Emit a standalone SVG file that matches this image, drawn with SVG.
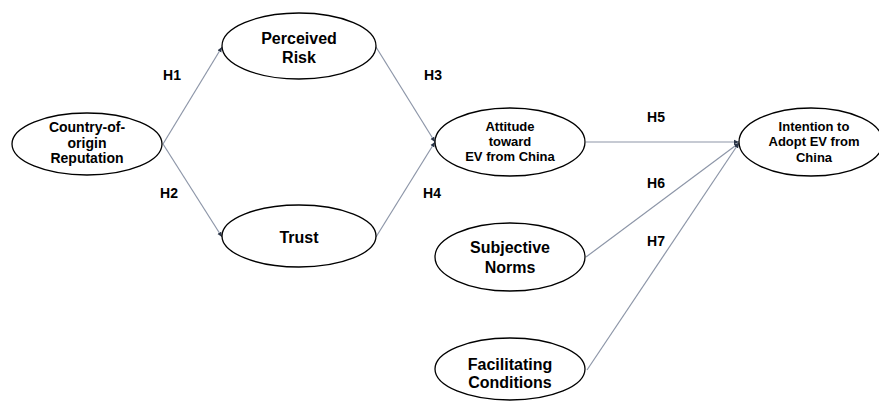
<svg xmlns="http://www.w3.org/2000/svg" width="879" height="401" viewBox="0 0 879 401">
<style>
.n{fill:#fff;stroke:#000;stroke-width:1.3}
.t{font-family:"Liberation Sans",Arial,sans-serif;font-weight:bold;fill:#000;text-anchor:middle}
.c{stroke:#8d96a8;stroke-width:1.2;fill:none;marker-end:url(#a)}
.h{font-family:"Liberation Sans",Arial,sans-serif;font-weight:bold;font-size:14px;fill:#000;text-anchor:middle}
</style>
<defs>
<marker id="a" markerWidth="6" markerHeight="6" refX="5" refY="3" orient="auto" markerUnits="userSpaceOnUse">
<path d="M0,0.8 L5,3 L0,5.2 Z" fill="#2a3548"/>
</marker>
</defs>
<g id="connectors">
<line class="c" x1="163" y1="144" x2="222" y2="47"/>
<line class="c" x1="163" y1="144" x2="222" y2="237"/>
<line class="c" x1="376" y1="47" x2="435" y2="142"/>
<line class="c" x1="376" y1="237" x2="435" y2="142"/>
<line class="c" x1="586" y1="142" x2="739" y2="142"/>
<line class="c" x1="586" y1="257" x2="739" y2="143"/>
<line class="c" x1="587" y1="370" x2="739" y2="143"/>
</g>
<g id="labels">
<text class="h" x="172" y="80">H1</text>
<text class="h" x="169" y="198">H2</text>
<text class="h" x="433" y="80">H3</text>
<text class="h" x="432" y="198">H4</text>
<text class="h" x="656" y="122">H5</text>
<text class="h" x="656" y="188">H6</text>
<text class="h" x="656" y="246">H7</text>
</g>
<g id="country">
<ellipse class="n" cx="87" cy="144" rx="75" ry="31"/>
<text class="t" font-size="14" x="87" y="132">Country-of-</text>
<text class="t" font-size="14" x="87" y="148">origin</text>
<text class="t" font-size="14" x="87" y="163">Reputation</text>
</g>
<g id="risk">
<ellipse class="n" cx="299" cy="46" rx="77" ry="33"/>
<text class="t" font-size="16" x="299" y="44">Perceived</text>
<text class="t" font-size="16" x="299" y="63">Risk</text>
</g>
<g id="trust">
<ellipse class="n" cx="299" cy="236" rx="77" ry="31"/>
<text class="t" font-size="16" x="299" y="243">Trust</text>
</g>
<g id="attitude">
<ellipse class="n" cx="510" cy="142" rx="75" ry="34"/>
<text class="t" font-size="13" x="510" y="131">Attitude</text>
<text class="t" font-size="13" x="510" y="146">toward</text>
<text class="t" font-size="13" x="510" y="161">EV from China</text>
</g>
<g id="intention">
<ellipse class="n" cx="811" cy="142" rx="72" ry="34"/>
<text class="t" font-size="13" x="814" y="131">Intention to</text>
<text class="t" font-size="13" x="814" y="146">Adopt EV from</text>
<text class="t" font-size="13" x="814" y="162">China</text>
</g>
<g id="subjective">
<ellipse class="n" cx="510" cy="257" rx="75" ry="34"/>
<text class="t" font-size="16" x="510" y="253">Subjective</text>
<text class="t" font-size="16" x="510" y="273">Norms</text>
</g>
<g id="facilitating">
<ellipse class="n" cx="510" cy="369" rx="75" ry="31"/>
<text class="t" font-size="16" x="510" y="370">Facilitating</text>
<text class="t" font-size="16" x="510" y="388">Conditions</text>
</g>
</svg>
